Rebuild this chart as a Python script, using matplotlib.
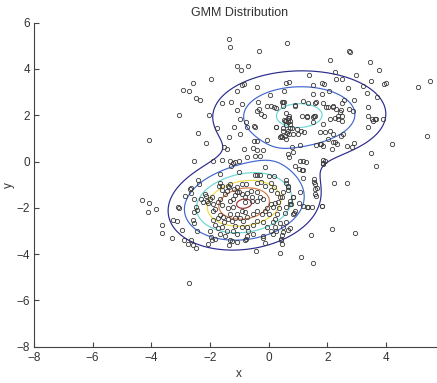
import numpy as np
import matplotlib
matplotlib.use("Agg")
import matplotlib.pyplot as plt

plt.rcParams['font.family'] = ['Liberation Sans', 'DejaVu Sans']

# Sample points (x, y)
pts_upper = [
    (-1.35, 5.29), (-1.32, 4.94), (0.63, 5.14), (-0.32, 4.77), (2.78, 4.75), (2.76, 4.77),
    (2.10, 4.37), (3.45, 4.32), (-1.07, 4.12), (-0.94, 3.95), (-0.71, 4.12), (3.78, 3.95),
    (2.26, 3.86), (1.38, 3.72), (2.97, 3.76), (-1.97, 3.57), (-2.57, 3.41), (2.31, 3.56),
    (2.50, 3.57), (5.51, 3.50), (5.10, 3.20), (3.49, 3.47), (3.94, 3.36), (4.00, 3.39),
    (1.83, 3.41), (1.89, 3.33), (0.61, 3.39), (0.68, 3.43), (-0.90, 3.30), (-0.85, 3.33),
    (-0.38, 3.24), (-2.91, 3.10), (-2.70, 3.04), (3.22, 3.26), (1.52, 3.29), (2.70, 3.16),
    (2.07, 3.07), (0.52, 3.07), (-1.07, 3.04), (0.05, 2.88), (3.70, 2.78), (3.37, 2.95),
    (1.50, 2.90), (1.82, 2.93), (-2.48, 2.74), (-2.34, 2.64), (-0.35, 2.58), (2.91, 2.64),
    (2.57, 2.67), (-1.27, 2.59), (-1.60, 2.54), (0.46, 2.59), (0.53, 2.56), (1.18, 2.61),
    (1.34, 2.54), (1.57, 2.54), (1.63, 2.56), (1.87, 2.54), (2.49, 2.55), (-0.91, 2.48),
    (0.50, 2.38), (0.91, 2.46), (3.39, 2.35), (-0.07, 2.42), (0.07, 2.39), (0.18, 2.35),
    (0.24, 2.31), (-0.33, 2.29), (2.21, 2.35), (2.30, 2.26), (2.48, 2.23), (2.74, 2.25),
    (-1.09, 2.22), (2.89, 2.20), (1.95, 2.35), (-3.05, 2.02), (-2.03, 2.03), (-0.41, 2.18),
    (-0.25, 2.05), (-0.17, 1.95), (0.61, 2.09), (0.68, 1.99), (0.66, 1.87), (0.61, 1.77),
    (0.73, 1.74), (0.73, 1.63), (0.61, 1.59), (0.53, 1.80), (0.71, 1.89), (1.13, 1.99),
    (1.32, 1.97), (1.55, 1.99), (1.52, 1.91), (1.60, 1.95), (2.27, 1.89), (2.38, 1.86),
    (2.36, 1.96), (3.40, 1.97), (3.53, 1.84), (3.63, 1.83), (3.56, 1.74), (3.68, 1.84),
    (3.89, 1.84), (-0.99, 1.83), (2.09, 1.86), (2.51, 1.77), (-0.77, 1.70), (-0.75, 1.51),
    (-0.48, 1.54), (-0.47, 1.48), (-1.18, 1.51), (1.50, 1.69), (3.40, 1.51), (-1.75, 1.46),
    (0.24, 1.48), (0.48, 1.47), (0.50, 1.33), (0.73, 1.47), (0.80, 1.43), (1.11, 1.30),
    (1.21, 1.28), (0.64, 1.22), (0.71, 1.20), (0.85, 1.17), (0.99, 1.18), (1.77, 1.27),
    (2.21, 1.17), (2.55, 1.17), (2.47, 1.12), (-2.40, 1.25), (-0.98, 1.17), (5.39, 1.10),
    (-1.34, 1.08), (0.42, 1.11), (0.47, 1.07), (0.58, 0.99), (-4.08, 0.95), (-0.05, 0.95),
    (-0.50, 0.88), (-0.41, 0.88), (2.20, 0.85), (2.26, 0.85), (2.91, 0.79), (4.21, 0.78),
    (-2.15, 0.81), (1.62, 0.72), (1.80, 0.76), (1.87, 0.68), (1.07, 0.71), (0.80, 0.62),
    (-1.52, 0.65), (-1.42, 0.53), (-0.84, 0.53), (-0.52, 0.58), (-0.40, 0.52), (-0.18, 0.48),
    (2.17, 0.56), (0.85, 0.43), (0.66, 0.33), (0.68, 0.19), (3.50, 0.37), (-0.46, 0.22),
    (-0.30, 0.22), (-0.75, 0.19), (0.90, 2.42), (1.30, 1.94), (0.50, 2.56), (0.56, 1.77),
    (0.67, 1.70), (2.03, 2.35), (2.20, 2.42), (2.43, 2.16), (2.49, 1.99), (1.86, 1.63),
    (1.92, 1.27), (2.09, 1.34), (2.03, 0.98), (0.27, 1.48), (0.67, 1.34), (0.96, 1.41),
    (0.39, 1.05), (0.56, 1.12), (1.75, 0.76), (2.32, 0.76), (2.66, 0.69), (2.83, 0.62),
    (5.82, 2.05),
]

pts_middle = [
    (-2.56, 0.03), (-1.91, 0.03), (-1.60, 0.06), (-1.30, 0.03), (-1.21, -0.07), (-1.14, -0.04),
    (-1.00, 0.04), (-1.29, -0.19), (1.16, 0.04), (1.27, 0.00), (1.91, 0.04), (1.87, -0.10),
    (3.66, -0.20), (-0.13, -0.22), (0.91, -0.19), (1.04, -0.30), (1.16, -0.35), (-1.65, -0.53),
    (-1.02, -0.45), (-0.47, -0.58), (-0.39, -0.59), (-0.30, -0.58), (0.18, -0.63), (1.18, -0.72),
    (-2.39, -0.81), (0.61, -0.79), (1.56, -0.76), (1.56, -0.89), (2.23, -0.94), (2.67, -0.91),
    (-2.38, -0.98), (-1.66, -0.92), (-1.59, -1.05), (-1.39, -1.05), (-0.91, -0.97), (-0.76, -0.95),
    (0.07, -0.94), (0.67, -1.07), (0.65, -1.21), (1.58, -0.99), (1.60, -1.18), (-2.66, -1.15),
    (1.64, -1.14), (1.57, -1.40), (1.61, -1.47), (1.86, 0.07), (1.84, -0.07), (1.06, 0.01),
    (1.13, -0.36),
]

pts_lower = [
    (-4.31, -1.64), (-4.08, -1.80), (-4.10, -2.19), (-3.85, -2.06), (-3.62, -2.74), (-3.64, -3.10),
    (-3.31, -3.29), (-3.27, -2.51), (-3.14, -2.59), (-3.09, -1.97), (-3.05, -2.02), (-2.84, -1.48),
    (-2.94, -2.97), (-2.90, -3.39), (-2.75, -3.56), (-2.64, -3.41), (-2.59, -3.60), (-2.48, -3.73),
    (-2.05, -3.57), (-1.93, -3.39), (-1.97, -3.27), (-1.83, -3.36), (-1.32, -3.37), (-1.25, -3.44),
    (-1.35, -3.60), (-1.07, -3.47), (-0.82, -3.39), (-0.77, -3.36), (-0.43, -3.88), (-0.13, -3.52),
    (-0.18, -3.30), (0.39, -3.96), (0.46, -3.16), (0.44, -3.34), (0.47, -3.57), (0.73, -2.87),
    (0.88, -2.22), (1.04, -1.80), (1.30, -1.97), (1.48, -1.95), (1.82, -1.92), (2.15, -2.91),
    (2.96, -3.10), (1.46, -3.18), (1.11, -4.14), (1.52, -4.37), (-2.73, -5.23), (-2.68, -1.17),
    (-2.65, -1.34), (-2.53, -1.63), (-2.49, -1.97), (-2.56, -2.16), (-2.43, -2.09), (-2.57, -2.51),
    (-2.54, -2.64), (-2.45, -2.98), (-2.31, -1.61), (-2.25, -1.76), (-2.17, -1.40), (-2.09, -1.69),
    (-2.12, -1.47), (-2.05, -1.77), (-1.99, -1.60), (-1.89, -1.82), (-1.92, -1.54), (-1.89, -2.15),
    (-1.81, -2.05), (-1.73, -2.42), (-1.66, -2.31), (-1.89, -2.54), (-1.81, -2.72), (-1.99, -2.98),
    (-1.72, -2.88), (-1.43, -2.98), (-1.66, -3.13), (-1.48, -3.20), (-1.32, -2.26), (-1.40, -2.00),
    (-1.32, -1.71), (-1.21, -1.61), (-1.15, -1.44), (-1.07, -1.33), (-1.18, -1.18), (-1.34, -1.11),
    (-1.43, -1.28), (-1.70, -1.04), (-1.59, -1.25), (-1.31, -0.99), (-1.08, -1.11), (-1.00, -1.31),
    (-0.90, -1.40), (-0.81, -1.54), (-0.82, -1.74), (-0.73, -1.38), (-0.61, -1.28), (-0.55, -1.51),
    (-0.41, -1.33), (-0.55, -1.69), (-0.41, -1.71), (-0.30, -1.51), (-0.18, -1.60), (-0.38, -0.92),
    (-0.26, -0.89), (-0.11, -1.05), (0.07, -1.22), (0.18, -1.11), (0.28, -1.37), (0.39, -1.54),
    (0.33, -1.76), (0.22, -1.77), (0.16, -1.97), (0.34, -2.00), (0.30, -2.26), (0.23, -2.48),
    (0.14, -2.61), (0.39, -2.67), (0.50, -2.84), (0.61, -2.62), (0.56, -2.23), (0.61, -1.97),
    (0.47, -1.51), (0.73, -1.69), (0.84, -1.54), (0.67, -1.11), (0.07, -1.83), (-0.07, -2.00),
    (-0.13, -2.15), (0.00, -2.26), (-0.24, -2.26), (-0.41, -2.12), (-0.52, -2.26), (-0.75, -2.41),
    (-0.86, -2.55), (-0.98, -2.44), (-0.89, -2.12), (-0.81, -2.18), (-1.09, -2.26), (-1.22, -1.97),
    (-1.14, -2.46), (-1.26, -2.59), (-1.38, -2.48), (-1.55, -2.38), (-1.58, -1.86), (-1.73, -1.76),
    (-1.66, -1.61), (-1.49, -1.40), (-1.14, -2.77), (-0.91, -2.84), (-0.75, -2.84), (-0.69, -2.98),
    (-0.52, -2.72), (-0.41, -2.55), (-0.18, -2.62), (-0.07, -2.81), (0.07, -2.98), (-0.18, -3.20),
    (-0.52, -3.13), (-0.75, -3.21), (-1.09, -3.13), (-1.21, -2.98), (-1.52, -2.62), (-1.60, -2.84),
    (0.27, -2.98), (0.16, -3.13), (0.22, -2.81), (0.48, -3.05), (0.66, -2.94), (0.73, -1.83),
    (0.84, -2.26), (0.48, -1.30), (0.58, -0.94), (0.00, -0.61), (1.83, -1.91), (0.85, -1.51),
    (1.07, -1.33), (0.78, -1.83), (1.18, -1.90), (1.33, -1.97), (0.89, -2.15), (0.44, -3.41),
]

# Two-component Gaussian mixture: weights, means, std devs, correlations
weights = [0.54, 0.49]
means = [(-0.84, -1.83), (1.05, 2.00)]
sigmas = [(1.36, 1.05), (1.92, 1.25)]
rhos = [0.15, 0.03]
levels = [0.01, 0.02, 0.03, 0.04, 0.05, 0.06]
level_colors = ['#2a2a8e', '#4066d0', '#6ad8d2', '#eedd48', '#d87844', '#9c3030']

xticks = [-8, -6, -4, -2, 0, 2, 4]
yticks = [-8, -6, -4, -2, 0, 2, 4, 6]


def mixture_pdf(X, Y):
    Z = np.zeros_like(X)
    for w, (mx, my), (sx, sy), r in zip(weights, means, sigmas, rhos):
        dx = (X - mx) / sx
        dy = (Y - my) / sy
        q = (dx**2 + dy**2 - 2 * r * dx * dy) / (1 - r**2)
        Z += w * np.exp(-q / 2) / (2 * np.pi * sx * sy * np.sqrt(1 - r**2))
    return Z


W, H = 437, 383
fig = plt.figure(figsize=(W / 100, H / 100), dpi=100)
# the axes run on past the right edge of the figure (x up to 6)
ax = fig.add_axes([34 / W, (H - 346.7) / H, (444.5 - 34) / W, (346.7 - 22.7) / H])

gx = np.linspace(-8, 6, 400)
gy = np.linspace(-8, 6, 400)
GX, GY = np.meshgrid(gx, gy)
GZ = mixture_pdf(GX, GY)
ax.contour(GX, GY, GZ, levels=levels, colors=level_colors, linewidths=0.85)

pts = np.array(pts_upper + pts_middle + pts_lower)
ax.plot(pts[:, 0], pts[:, 1], 'o', mfc='none', mec='#3a3a3a', ms=3.1, mew=0.6)

ax.set_xlim(-8, 6)
ax.set_ylim(-8, 6)
ax.set_xticks(xticks)
ax.set_yticks(yticks)
for s in ['top', 'right']:
    ax.spines[s].set_visible(False)
for s in ['left', 'bottom']:
    ax.spines[s].set_color('#444444')
    ax.spines[s].set_linewidth(0.8)
ax.tick_params(direction='in', length=3.5, width=0.8, colors='#444444',
               labelsize=8.5, labelcolor='#333333')
ax.tick_params(axis='x', pad=4)
ax.tick_params(axis='y', pad=3)

ax.set_title('GMM Distribution', fontsize=9, color='#333333', pad=5)
ax.set_xlabel('x', fontsize=8.5, color='#333333', labelpad=3)
ax.set_ylabel('y', fontsize=8.5, color='#333333', labelpad=1)

fig.savefig('out.png', dpi=100)
